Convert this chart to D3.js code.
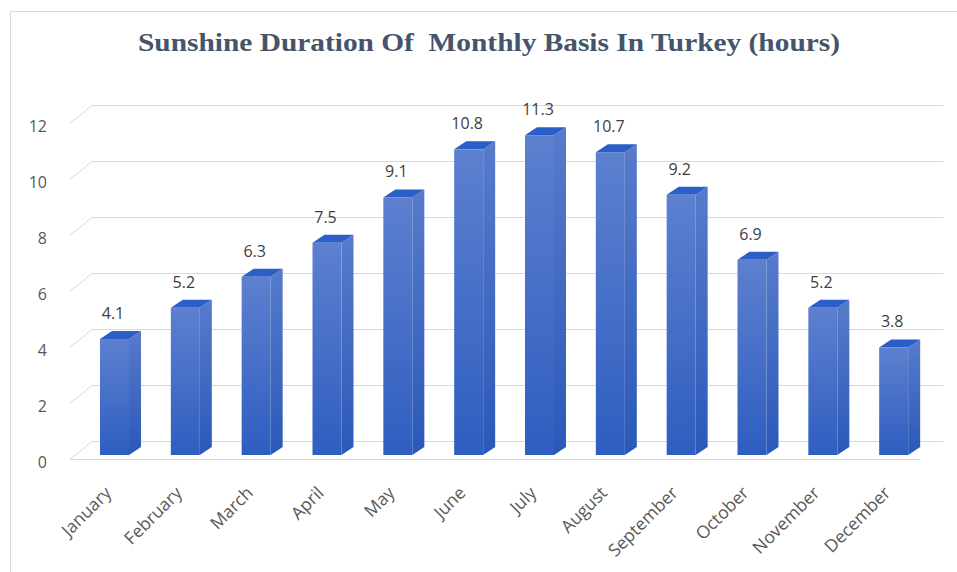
<!DOCTYPE html>
<html>
<head>
<meta charset="utf-8">
<script src="https://cdn.jsdelivr.net/npm/d3@7"></script>
<style>
  body { margin: 0; background: #fff; }
</style>
</head>
<body>
<div id="chart"></div>
<script>
// data
var months = ["January", "February", "March", "April", "May", "June",
              "July", "August", "September", "October", "November", "December"];
var hours = [4.1, 5.2, 6.3, 7.5, 9.1, 10.8, 11.3, 10.7, 9.2, 6.9, 5.2, 3.8];
var yTicks = [0, 2, 4, 6, 8, 10, 12];

var W = 957, H = 572;
var floorFront = 459,   // y of value 0 on front edge
    depthX = 23, depthY = -18,
    left = 70, right = 920,
    unit = 28;

var svg = d3.select("#chart").append("svg")
  .attr("width", W).attr("height", H)
  .style("font-family", "'Open Sans', sans-serif");

// outer frame
svg.append("path")
  .attr("d", "M10.5," + H + " V11.5 H" + W)
  .attr("fill", "none").attr("stroke", "#d9d9d9");

// title
svg.append("text")
  .attr("x", 489).attr("y", 51)
  .attr("text-anchor", "middle")
  .attr("textLength", 702).attr("lengthAdjust", "spacingAndGlyphs")
  .style("font-family", "'Liberation Serif', serif")
  .style("font-weight", "bold")
  .style("font-size", "26px")
  .style("fill", "#44546a")
  .style("white-space", "pre")
  .text("Sunshine Duration Of  Monthly Basis In Turkey (hours)");

// scales
var x = d3.scaleBand().domain(months).range([left, right]);
var yFront = d3.scaleLinear().domain([0, 12]).range([floorFront, floorFront - 12 * unit]);
var yBack = d3.scaleLinear().domain([0, 12]).range([floorFront + depthY, floorFront + depthY - 12 * unit]);

// gridlines: back wall + left wall diagonals
var grid = svg.append("g").attr("stroke", "#d9d9d9").attr("fill", "none");
yTicks.forEach(function(t) {
  grid.append("line")
    .attr("x1", left + depthX).attr("x2", right + depthX + 0.5)
    .attr("y1", Math.round(yBack(t)) + 0.5).attr("y2", Math.round(yBack(t)) + 0.5);
  grid.append("line")
    .attr("x1", left).attr("y1", yFront(t))
    .attr("x2", left + depthX).attr("y2", yBack(t));
});
// floor front edge
grid.append("line")
  .attr("x1", left).attr("x2", right)
  .attr("y1", floorFront + 0.5).attr("y2", floorFront + 0.5);

// y axis labels
svg.append("g").selectAll("text")
  .data(yTicks).enter().append("text")
    .attr("x", 47)
    .attr("y", function(d) { return yFront(d) + 9; })
    .attr("text-anchor", "end")
    .style("font-size", "16px")
    .style("fill", "#595959")
    .text(function(d) { return d; });

// gradients
var defs = svg.append("defs");
function grad(id, c1, c2) {
  var g = defs.append("linearGradient").attr("id", id)
    .attr("x1", 0).attr("y1", 0).attr("x2", 0).attr("y2", 1);
  g.append("stop").attr("offset", "0%").attr("stop-color", c1);
  g.append("stop").attr("offset", "100%").attr("stop-color", c2);
}
grad("gFront", "#5d80cf", "#2e5ec0");
grad("gSide", "#587bcb", "#2b59b8");

// bars (3D columns)
var barOff = 30, barW = 29, bdx = 12, bdy = -8, barBase = 455;
var yBar = d3.scaleLinear().domain([0, 12]).range([barBase, barBase - 12 * 28.3]);

var bars = svg.append("g").selectAll("g")
  .data(months.map(function(m, i) { return {m: m, v: hours[i]}; }))
  .enter().append("g");

// side face
bars.append("path")
  .attr("fill", "url(#gSide)")
  .attr("d", function(d) {
    var x0 = x(d.m) + barOff + barW, t = yBar(d.v);
    return "M" + x0 + "," + barBase + "L" + (x0 + bdx) + "," + (barBase + bdy) +
      "L" + (x0 + bdx) + "," + (t + bdy) + "L" + x0 + "," + t + "Z";
  });
// top face
bars.append("path")
  .attr("fill", "#2b5ec6")
  .attr("d", function(d) {
    var x0 = x(d.m) + barOff, t = yBar(d.v);
    return "M" + x0 + "," + t + "L" + (x0 + bdx) + "," + (t + bdy) +
      "L" + (x0 + barW + bdx) + "," + (t + bdy) + "L" + (x0 + barW) + "," + t + "Z";
  });
// front face
bars.append("rect")
  .attr("x", function(d) { return x(d.m) + barOff; })
  .attr("y", function(d) { return yBar(d.v); })
  .attr("width", barW)
  .attr("height", function(d) { return barBase - yBar(d.v); })
  .attr("fill", "url(#gFront)");

// value labels
bars.append("text")
  .attr("x", function(d) { return x(d.m) + barOff + 13; })
  .attr("y", function(d) { return yBar(d.v) - 20; })
  .attr("text-anchor", "middle")
  .style("font-size", "16px")
  .style("fill", "#404040")
  .text(function(d) { return d.v; });

// category labels
svg.append("g").selectAll("text")
  .data(months).enter().append("text")
    .attr("text-anchor", "end")
    .attr("transform", function(d) {
      return "translate(" + (x(d) + x.bandwidth() / 2 + 7) + "," + 494 + ") rotate(-45)";
    })
    .style("font-size", "17.5px")
    .style("fill", "#595959")
    .text(function(d) { return d; });
</script>
</body>
</html>
